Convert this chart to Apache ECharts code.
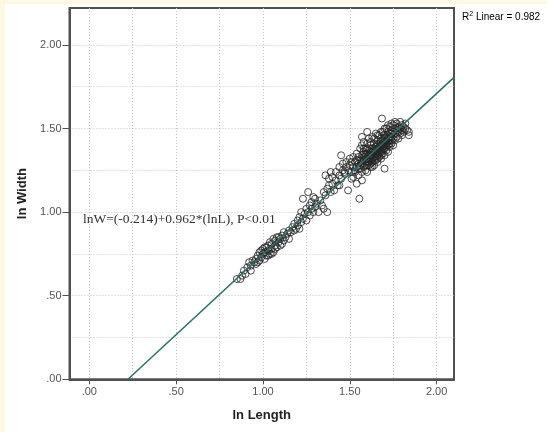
<!DOCTYPE html>
<html>
<head>
<meta charset="utf-8">
<script src="https://cdn.jsdelivr.net/npm/echarts@6/dist/echarts.min.js"></script>
<style>
html,body{margin:0;padding:0;background:#ffffff;}
#stripTop{position:absolute;left:0;top:0;width:547px;height:4px;background:#fdf8e4;}
#stripLeft{position:absolute;left:0;top:0;width:5px;height:432px;background:#fdf8e4;}
#chart{position:absolute;left:0;top:0;width:547px;height:432px;}
</style>
</head>
<body>
<div id="stripTop"></div>
<div id="stripLeft"></div>
<div id="chart"></div>
<script>
var smallFish = [
[0.85,0.60],[0.87,0.60],[0.88,0.62],[0.89,0.65],[0.90,0.63],[0.91,0.67],[0.92,0.70],[0.93,0.68],[0.93,0.65],[0.94,0.71],
[0.95,0.70],[0.96,0.72],[0.96,0.69],[0.97,0.74],[0.98,0.71],[0.98,0.76],[0.99,0.73],[1.00,0.75],[1.00,0.78],[1.01,0.72],
[1.01,0.76],[1.02,0.79],[1.02,0.74],[1.03,0.77],[1.03,0.80],[1.04,0.75],[1.04,0.82],[1.05,0.78],[1.05,0.81],[1.06,0.76],
[1.06,0.84],[1.07,0.80],[1.07,0.83],[1.08,0.79],[1.08,0.85],[1.09,0.82],[1.10,0.80],[1.10,0.84],[1.11,0.86],[1.12,0.83],
[1.12,0.88],[1.13,0.85],[1.14,0.87],[1.15,0.84],[1.15,0.89],[1.16,0.88],[1.17,0.91],[1.18,0.89],[1.18,0.93],[1.19,0.90],
[1.20,0.92],[1.20,0.95],[0.97,0.70],[0.99,0.77],[1.01,0.79],[1.03,0.74],[1.05,0.75],[1.07,0.78],[1.09,0.85],[1.11,0.81]
];
var middleFish = [
[1.21,0.97],[1.21,0.90],[1.22,0.94],[1.22,1.00],[1.23,0.96],[1.23,1.08],[1.24,0.99],[1.25,0.95],[1.25,1.02],[1.26,1.00],
[1.26,1.12],[1.27,1.04],[1.27,0.98],[1.28,1.02],[1.28,1.06],[1.29,1.00],[1.30,1.03],[1.30,1.08],[1.31,1.05],[1.32,1.00],
[1.33,1.07],[1.34,1.04],[1.35,1.02],[1.36,1.10],[1.36,1.22],[1.37,1.00],[1.37,1.14],[1.38,1.20],[1.38,1.16],[1.39,1.24],
[1.39,1.12],[1.40,1.17],[1.40,1.21],[1.41,1.13],[1.42,1.24],[1.42,1.19],[1.43,1.16],[1.44,1.22],[1.44,1.27],[1.45,1.34],
[1.45,1.20],[1.46,1.25],[1.46,1.29],[1.47,1.23],[1.48,1.27],[1.48,1.30],[1.49,1.25],[1.50,1.28],[1.50,1.32],[1.51,1.20],
[1.51,1.30],[1.52,1.27],[1.52,1.33],[1.29,1.09],[1.35,1.12],[1.47,1.24],[1.53,1.25],[1.44,1.16],[1.49,1.13],[1.54,1.17]
];
var largeFish = [
[1.53,1.24],[1.53,1.30],[1.54,1.27],[1.54,1.35],[1.55,1.22],[1.55,1.29],[1.55,1.33],[1.56,1.26],[1.56,1.31],[1.56,1.38],
[1.555,1.08],[1.57,1.24],[1.57,1.29],[1.57,1.34],[1.57,1.40],[1.58,1.27],[1.58,1.31],[1.58,1.36],[1.58,1.42],[1.59,1.25],
[1.59,1.30],[1.59,1.33],[1.59,1.38],[1.60,1.28],[1.60,1.32],[1.60,1.35],[1.60,1.41],[1.60,1.24],[1.61,1.30],[1.61,1.34],
[1.61,1.37],[1.61,1.44],[1.62,1.27],[1.62,1.32],[1.62,1.36],[1.62,1.40],[1.63,1.30],[1.63,1.34],[1.63,1.38],[1.63,1.45],
[1.64,1.28],[1.64,1.33],[1.64,1.36],[1.64,1.41],[1.65,1.31],[1.65,1.35],[1.65,1.39],[1.65,1.47],[1.66,1.30],[1.66,1.34],
[1.66,1.38],[1.66,1.43],[1.67,1.33],[1.67,1.37],[1.67,1.41],[1.67,1.46],[1.68,1.32],[1.68,1.36],[1.68,1.40],[1.68,1.44],
[1.685,1.56],[1.69,1.35],[1.69,1.39],[1.69,1.43],[1.69,1.48],[1.70,1.26],[1.70,1.34],[1.70,1.38],[1.70,1.42],[1.70,1.46],
[1.71,1.37],[1.71,1.41],[1.71,1.45],[1.71,1.50],[1.72,1.36],[1.72,1.40],[1.72,1.44],[1.72,1.48],[1.73,1.39],[1.73,1.43],
[1.73,1.47],[1.73,1.51],[1.74,1.41],[1.74,1.45],[1.74,1.49],[1.75,1.40],[1.75,1.44],[1.75,1.48],[1.75,1.52],[1.76,1.43],
[1.76,1.47],[1.76,1.50],[1.77,1.45],[1.77,1.49],[1.77,1.53],[1.78,1.44],[1.78,1.48],[1.78,1.51],[1.79,1.47],[1.79,1.50],
[1.80,1.46],[1.80,1.49],[1.80,1.52],[1.81,1.48],[1.81,1.51],[1.82,1.50],[1.82,1.53],[1.83,1.49],[1.84,1.48],[1.84,1.46],
[1.58,1.33],[1.59,1.35],[1.60,1.30],[1.61,1.32],[1.62,1.34],[1.63,1.32],[1.63,1.36],[1.64,1.38],[1.65,1.33],[1.65,1.37],
[1.66,1.36],[1.66,1.40],[1.67,1.35],[1.67,1.39],[1.68,1.38],[1.68,1.42],[1.69,1.37],[1.69,1.41],[1.70,1.40],[1.70,1.44],
[1.71,1.39],[1.71,1.43],[1.72,1.42],[1.72,1.46],[1.73,1.41],[1.73,1.45],[1.74,1.43],[1.74,1.47],[1.62,1.29],[1.64,1.31],
[1.66,1.32],[1.68,1.34],[1.57,1.31],[1.56,1.28],[1.55,1.26],[1.54,1.31],[1.59,1.28],[1.61,1.28],[1.63,1.27],[1.58,1.38],
[1.60,1.38],[1.62,1.42],[1.64,1.44],[1.66,1.46],[1.68,1.48],[1.70,1.50],[1.72,1.52],[1.74,1.53],[1.76,1.54],[1.79,1.54],
[1.57,1.45],[1.60,1.48],[1.57,1.19],[1.52,1.21],[1.51,1.24]
];
// Linear fit lnW = (-0.214) + 0.962*lnL, endpoints within the plot
var fitLine = [[0.2225, 0.0], [2.10, 1.806]];
var xTicks = [0, 0.5, 1.0, 1.5, 2.0];
var yTicks = [0, 0.5, 1.0, 1.5, 2.0];
var equationText = 'lnW=(-0.214)+0.962*(lnL), P<0.01';
var rSquared = '0.982';

function fmt(v) {
  var s = Number(v).toFixed(2);
  return s.replace(/^0\./, '.');
}

var chart = echarts.init(document.getElementById('chart'), null, {renderer: 'canvas'});
var gridLine = {show: true, lineStyle: {color: '#c4c4c4', type: [1, 2], width: 1}};
var circleStyle = {color: 'rgba(0,0,0,0)', borderColor: '#222222', borderWidth: 1};

chart.setOption({
  backgroundColor: 'transparent',
  animation: false,
  grid: {left: 69.5, right: 93, top: 8, bottom: 52.7, show: true, backgroundColor: '#ffffff', borderColor: '#505050', borderWidth: 2},
  xAxis: {
    type: 'value', min: -0.114, max: 2.10, minInterval: 0.5, maxInterval: 0.5,
    name: 'ln Length', nameLocation: 'middle', nameGap: 30,
    nameTextStyle: {fontFamily: 'Liberation Sans', fontWeight: 'bold', fontSize: 13, color: '#222'},
    axisLine: {show: true, onZero: false, lineStyle: {color: '#505050', width: 2}},
    axisTick: {show: true, length: 5, customValues: xTicks, lineStyle: {color: '#505050', width: 1}},
    axisLabel: {customValues: xTicks, formatter: fmt, fontFamily: 'Liberation Sans', fontSize: 11, color: '#555', margin: 7},
    splitLine: gridLine,
    minorTick: {show: false, splitNumber: 2},
    minorSplitLine: gridLine
  },
  yAxis: {
    type: 'value', min: 0, max: 2.221, minInterval: 0.5, maxInterval: 0.5,
    name: 'ln Width', nameLocation: 'middle', nameGap: 37,
    nameTextStyle: {fontFamily: 'Liberation Sans', fontWeight: 'bold', fontSize: 13, color: '#222'},
    axisLine: {show: true, onZero: false, lineStyle: {color: '#505050', width: 2}},
    axisTick: {show: true, length: 7, customValues: yTicks, lineStyle: {color: '#505050', width: 1}},
    axisLabel: {customValues: yTicks, formatter: fmt, fontFamily: 'Liberation Sans', fontSize: 11, color: '#555', margin: 8},
    splitLine: gridLine,
    minorTick: {show: false, splitNumber: 2},
    minorSplitLine: gridLine
  },
  series: [
    {type: 'line', data: fitLine, showSymbol: false, symbol: 'none', lineStyle: {color: '#2f6e69', width: 1.5}, z: 3, silent: true},
    {type: 'scatter', data: smallFish, symbol: 'circle', symbolSize: 7, itemStyle: circleStyle, z: 2},
    {type: 'scatter', data: middleFish, symbol: 'circle', symbolSize: 7, itemStyle: circleStyle, z: 2},
    {type: 'scatter', data: largeFish, symbol: 'circle', symbolSize: 7, itemStyle: circleStyle, z: 2}
  ],
  graphic: [
    {type: 'text', left: 83, top: 212, z: 10, style: {text: equationText, font: '13.5px "Liberation Serif"', fill: '#333'}},
    {type: 'text', left: 462, top: 11, z: 10, style: {
      text: '{a|R}{s|2}{a| Linear = ' + rSquared + '}',
      rich: {a: {fontFamily: 'Liberation Sans', fontSize: 10, color: '#444'},
             s: {fontFamily: 'Liberation Sans', fontSize: 7, color: '#444', verticalAlign: 'top', padding: [0, 0, 5, 0]}}
    }}
  ]
});
</script>
</body>
</html>
